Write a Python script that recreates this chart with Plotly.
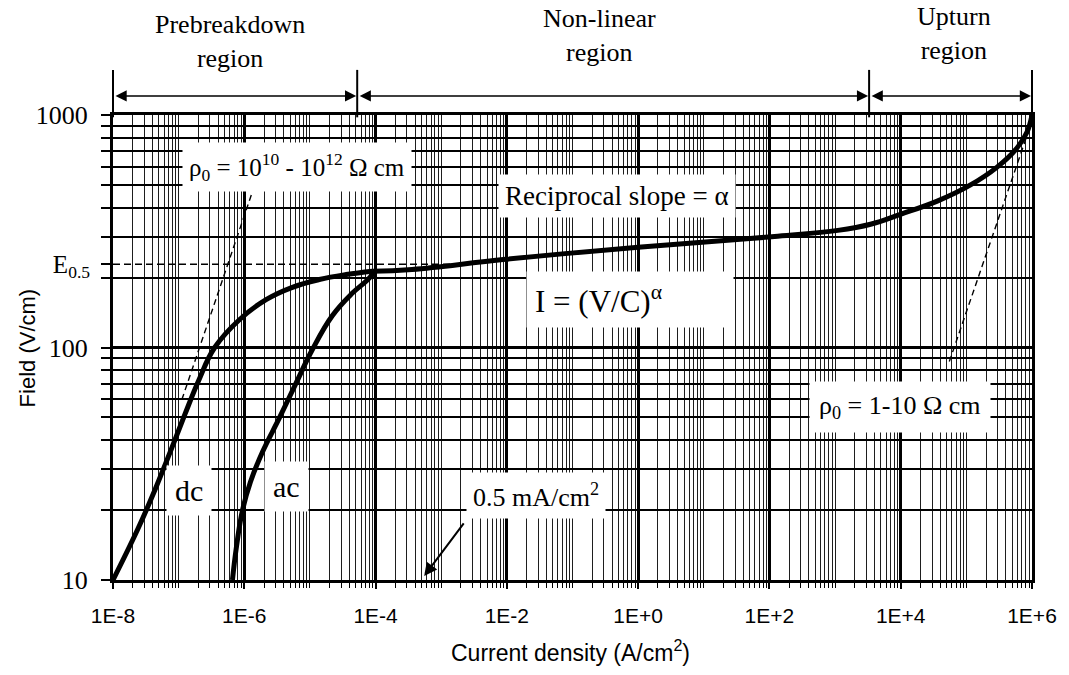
import math
import plotly.graph_objects as go

# ---------------- data ----------------
# dc characteristic (current density A/cm2, field V/cm)
dc_current = [1.0e-8, 2.4e-8, 4.35e-8, 7.9e-8, 1.24e-7, 2.02e-7, 3.54e-7, 8.5e-7,
              2.18e-6, 5.4e-6, 1.39e-5, 3.57e-5, 8.9e-5]
dc_field = [10, 16.6, 24.4, 37.1, 51.4, 72.1, 100, 132, 161, 181.5, 196, 206, 213]

# ac characteristic
ac_current = [6.6e-7, 7.6e-7, 9.4e-7, 1.24e-6, 1.9e-6, 3.44e-6, 6.2e-6, 1.09e-5,
              2.19e-5, 4.4e-5, 7.45e-5, 1.0e-4]
ac_field = [10, 13.9, 20.0, 26.4, 35.6, 49.9, 70.6, 98, 137, 171, 194.7, 213]

# common non-linear + upturn branch
nl_current = [8.9e-5, 3.6e-4, 9.6e-3, 1.0, 134, 1100, 3470, 9900, 3.6e4, 1.14e5,
              2.94e5, 5.9e5, 8.4e5, 1.0e6]
nl_field = [213, 216.7, 239.5, 270, 301, 319, 339, 374, 426, 499, 597, 721, 845, 1000]

# E0.5 reference level
e05_field = 228
e05_current = [1.0e-8, 2.0e-3]

# ohmic asymptotes
pre_ohmic_current = [1.12e-7, 1.29e-6]
pre_ohmic_field = [59.7, 456]
up_ohmic_current = [5.5e4, 9.3e5]
up_ohmic_field = [87, 888]

# regions
region_names = ["Prebreakdown<br>region", "Non-linear<br>region", "Upturn<br>region"]
region_bounds = [1.0e-8, 5.25e-5, 3.3e3, 1.0e6]

# 0.5 mA/cm2 marker
marker_current = 5.5e-4
marker_field = 10.4

# ticks
x_major_ticks = [1e-8, 1e-6, 1e-4, 1e-2, 1e0, 1e2, 1e4, 1e6]
x_tick_labels = ["1E-8", "1E-6", "1E-4", "1E-2", "1E+0", "1E+2", "1E+4", "1E+6"]
x_odd_decades = [1e-7, 1e-5, 1e-3, 1e-1, 1e1, 1e3, 1e5]
y_major_ticks = [10, 100, 1000]
y_tick_labels = ["10", "100", "1000"]

XMIN, XMAX = -8, 6
YMIN, YMAX = 1, 3

x_minor = [m * 10.0 ** e for e in range(XMIN, XMAX) for m in range(2, 10)] + x_odd_decades
y_minor = [m * 10.0 ** e for e in range(YMIN, YMAX) for m in range(2, 10)]

SERIF = "Liberation Serif"
SANS = "Liberation Sans"

fig = go.Figure()

curve = dict(color="black", width=5, shape="spline", smoothing=1.2)
fig.add_trace(go.Scatter(x=dc_current, y=dc_field, mode="lines", line=curve, hoverinfo="skip"))
fig.add_trace(go.Scatter(x=ac_current, y=ac_field, mode="lines", line=curve, hoverinfo="skip"))
fig.add_trace(go.Scatter(x=nl_current, y=nl_field, mode="lines", line=curve, hoverinfo="skip"))

dashed = dict(color="black", width=1.4, dash="6px,4px")
fig.add_trace(go.Scatter(x=pre_ohmic_current, y=pre_ohmic_field, mode="lines", line=dashed, hoverinfo="skip"))
fig.add_trace(go.Scatter(x=up_ohmic_current, y=up_ohmic_field, mode="lines", line=dashed, hoverinfo="skip"))
fig.add_trace(go.Scatter(x=e05_current, y=[e05_field] * len(e05_current), mode="lines",
                         line=dict(color="black", width=1.6, dash="7px,4px"), yaxis="y2", hoverinfo="skip"))

fig.update_layout(
    width=1069, height=675, autosize=False,
    margin=dict(l=113, r=34, t=115, b=95, pad=0),
    paper_bgcolor="white", plot_bgcolor="white",
    showlegend=False,
    xaxis=dict(
        type="log", range=[XMIN, XMAX], tickmode="array",
        tickvals=x_major_ticks, ticktext=x_tick_labels,
        showgrid=True, gridcolor="black", gridwidth=3,
        showline=True, linecolor="black", linewidth=3, mirror=True,
        ticks="outside", ticklen=6, tickwidth=2, tickcolor="black",
        tickfont=dict(family=SANS, size=21, color="black"),
        ticklabelstandoff=9,
        minor=dict(tickmode="array", tickvals=x_minor, showgrid=True, gridcolor="#1e1e1e",
                   gridwidth=1, ticks="outside", ticklen=5, tickwidth=1, tickcolor="black"),
        zeroline=False, fixedrange=True,
    ),
    yaxis=dict(
        type="log", range=[YMIN, YMAX], tickmode="array",
        tickvals=y_major_ticks, ticktext=y_tick_labels,
        showgrid=True, gridcolor="black", gridwidth=3,
        showline=True, linecolor="black", linewidth=3, mirror=True,
        ticks="outside", ticklen=9, tickwidth=2, tickcolor="black",
        tickfont=dict(family=SERIF, size=26, color="black"),
        ticklabelstandoff=8,
        minor=dict(tickmode="array", tickvals=y_minor, showgrid=True, gridcolor="black",
                   gridwidth=1.5, ticks="outside", ticklen=9, tickwidth=2, tickcolor="black"),
        zeroline=False, fixedrange=True,
    ),
    yaxis2=dict(
        type="log", range=[YMIN, YMAX], overlaying="y", side="left",
        tickmode="array", tickvals=[e05_field], ticktext=["E<sub>0.5</sub>"],
        showgrid=False, showline=False, zeroline=False,
        ticks="outside", ticklen=11, tickwidth=1.5, tickcolor="black",
        tickfont=dict(family=SERIF, size=25, color="black"),
        ticklabelstandoff=6, fixedrange=True,
    ),
)

L = math.log10
annotations = []


def box(text, lx, ly, size, **kw):
    d = dict(text=text, x=lx, y=ly, xref="x", yref="y", showarrow=False,
             font=dict(family=SERIF, size=size, color="black"),
             bgcolor="white", borderpad=6)
    d.update(kw)
    return d


annotations.append(box("ρ<sub>0</sub> = 10<sup>10</sup> - 10<sup>12</sup> Ω cm", -5.19, 2.776, 25))
annotations.append(box("Reciprocal slope = α", -0.317, 2.651, 27))
annotations.append(box("I = (V/C)<sup>α</sup>", -0.12, 2.207, 31, width=190, align="left", borderpad=8))
annotations.append(box("dc", -6.846, 1.384, 30, borderpad=8))
annotations.append(box("ac", -5.36, 1.401, 30, borderpad=8))
annotations.append(box("0.5 mA/cm<sup>2</sup>", -1.562, 1.362, 26))
annotations.append(box("ρ<sub>0</sub> = 1-10 Ω cm", 3.995, 1.746, 26, borderpad=9))

# arrow to 0.5 mA/cm2
annotations.append(dict(text="", x=L(marker_current), y=L(marker_field), xref="x", yref="y",
                        ax=-2.64, ay=1.25, axref="x", ayref="y", showarrow=True,
                        arrowhead=2, arrowsize=1.3, arrowwidth=2, arrowcolor="black", standoff=0))

# region labels and arrows above the plot
label_x = [-6.224, -0.59, 4.815]
label_y = [1.159, 1.170, 1.175]
for name, lx, ly in zip(region_names, label_x, label_y):
    annotations.append(dict(text=name, x=lx, y=ly, xref="x", yref="paper", showarrow=False,
                            font=dict(family=SERIF, size=26, color="black"),
                            xanchor="center", yanchor="middle"))

ARROW_Y = 1.041
for a, b in zip(region_bounds[:-1], region_bounds[1:]):
    annotations.append(dict(text="", x=L(b), y=ARROW_Y, xref="x", yref="paper",
                            ax=L(a), ay=0, axref="x", ayref="pixel", showarrow=True,
                            arrowhead=2, arrowside="end+start", arrowsize=1.4, arrowwidth=1.6,
                            arrowcolor="black", standoff=1, startstandoff=1))

# axis titles
annotations.append(dict(text="Current density (A/cm<sup>2</sup>)", x=0.498, y=-0.153,
                        xref="paper", yref="paper", showarrow=False,
                        font=dict(family=SANS, size=23, color="black"),
                        xanchor="center", yanchor="middle"))
annotations.append(dict(text="Field (V/cm)", x=-0.092, y=0.499, xref="paper", yref="paper",
                        showarrow=False, textangle=-90,
                        font=dict(family=SANS, size=22, color="black"),
                        xanchor="center", yanchor="middle"))

fig.update_layout(annotations=annotations)

# vertical bars delimiting the regions
shapes = []
for b in region_bounds:
    xf = (L(b) - XMIN) / (XMAX - XMIN)
    shapes.append(dict(type="line", xref="paper", yref="paper", x0=xf, x1=xf, y0=0.995, y1=1.097,
                       line=dict(color="black", width=2)))
fig.update_layout(shapes=shapes)

fig.write_html("out.html")
